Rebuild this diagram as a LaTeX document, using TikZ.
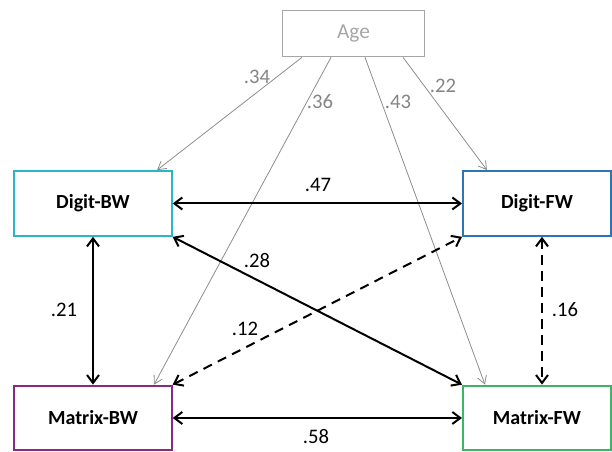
\documentclass[tikz,border=0pt]{standalone}
\usepackage{fontspec}
\setmainfont{Carlito}
\usetikzlibrary{arrows.meta,positioning,calc}
\definecolor{dbwcol}{HTML}{2BB5C8}
\definecolor{dfwcol}{HTML}{2E75B6}
\definecolor{mbwcol}{HTML}{862A86}
\definecolor{mfwcol}{HTML}{3DB564}
\definecolor{agecol}{HTML}{A6A6A6}
\begin{document}
\begin{tikzpicture}[x=0.75pt,y=-0.75pt,
  every node/.style={font=\fontsize{15.5}{18}\selectfont,align=center},
  box/.style={draw,line width=1.5pt,minimum width=118pt,minimum height=48.5pt,inner sep=0pt,font=\bfseries\fontsize{15}{18}\selectfont},
  agebox/.style={draw=agecol,line width=0.75pt,minimum width=107pt,minimum height=35pt,text=agecol,font=\fontsize{16}{18}\selectfont},
  agearrow/.style={-{Straight Barb[length=6pt,width=7pt]},draw=agecol!85!black,line width=0.6pt},
  arrow/.style={{Straight Barb[length=6pt,width=9pt]}-{Straight Barb[length=6pt,width=9pt]},line width=1.5pt},
  dashedarrow/.style={arrow,dash pattern=on 7pt off 5pt},
  coef/.style={text=black}, agecoef/.style={text=agecol!80!black}]
\useasboundingbox (0,0) rectangle (612,452);
\node[agebox] (age) at (353.5,33.5) {Age};
\node[box,draw=dbwcol] (dbw) at (93,203.5) {Digit-BW};
\node[box,draw=dfwcol,minimum width=111pt] (dfw) at (537,203.5) {Digit-FW};
\node[box,draw=mbwcol] (mbw) at (93,418) {Matrix-BW};
\node[box,draw=mfwcol,minimum width=111pt] (mfw) at (537,418) {Matrix-FW};
% age effects
\draw[agearrow] ($(age.south)+(-51.5,0)$) -- ($(dbw.north)+(64,0)$);
\draw[agearrow] ($(age.south)+(-22.5,0)$) -- ($(mbw.north)+(61,0)$);
\draw[agearrow] ($(age.south)+(11.5,0)$) -- ($(mfw.north)+(-52,0)$);
\draw[agearrow] ($(age.south)+(49.5,0)$) -- ($(dfw.north)+(-50,0)$);
\node[agecoef] (c34) at (257,77) {.34};
\node[agecoef] (c36) at (320,102) {.36};
\node[agecoef] (c43) at (398,102) {.43};
\node[agecoef] (c22) at (443,86) {.22};
% correlations
\draw[arrow] (dbw.east) -- (dfw.west);
\draw[arrow] (dbw.south) -- (mbw.north);
\draw[arrow] (dbw.south east) -- (mfw.north west);
\draw[dashedarrow] (mbw.north east) -- (dfw.south west);
\draw[dashedarrow] ($(dfw.south)+(5,0)$) -- ($(mfw.north)+(5,0)$);
\draw[arrow] (mbw.east) -- (mfw.west);
\node[coef] (c47) at (318,185) {.47};
\node[coef] (c28) at (257,261) {.28};
\node[coef] (c21) at (64,310) {.21};
\node[coef] (c12) at (245,329) {.12};
\node[coef] (c16) at (565,310) {.16};
\node[coef] (c58) at (316,437) {.58};
\end{tikzpicture}
\end{document}
